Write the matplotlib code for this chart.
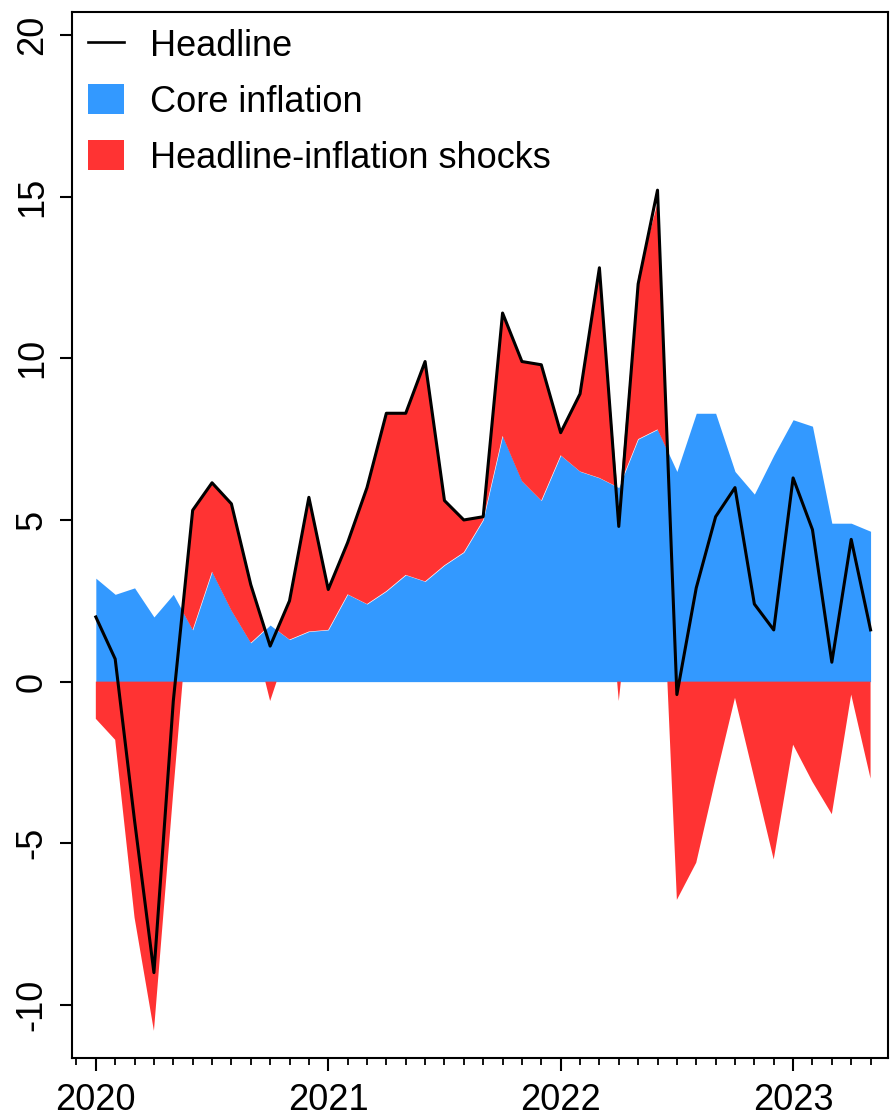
import numpy as np
import matplotlib
matplotlib.use("Agg")
import matplotlib.pyplot as plt
from matplotlib.ticker import MultipleLocator, FixedLocator
from matplotlib.lines import Line2D
from matplotlib.patches import Patch

plt.rcParams['font.family'] = ['Liberation Sans', 'DejaVu Sans']

# monthly data, Jan 2020 .. May 2023
start_year = 2020
core = [3.2, 2.7, 2.9, 2.0, 2.7, 1.6, 3.4, 2.2, 1.2, 1.75,
        1.3, 1.55, 1.6, 2.7, 2.4, 2.8, 3.3, 3.1, 3.6, 4.0,
        5.0, 7.6, 6.2, 5.6, 7.0, 6.5, 6.3, 6.0, 7.5, 7.8,
        6.5, 8.3, 8.3, 6.5, 5.8, 7.0, 8.1, 7.9, 4.9, 4.9, 4.65]
shocks = [-1.15, -1.8, -7.3, -10.8, -3.4, 3.7, 2.75, 3.3, 1.8, -0.6,
          1.2, 4.15, 1.25, 1.6, 3.6, 5.5, 5.0, 6.8, 2.0, 1.0,
          0.1, 3.8, 3.7, 4.2, 0.7, 2.4, 6.5, -0.6, 5.0, 7.0,
          -6.75, -5.6, -3.0, -0.5, -3.0, -5.5, -1.95, -3.1, -4.1, -0.4, -3.0]
headline = [2.0, 0.7, -4.3, -9.0, -0.6, 5.3, 6.15, 5.5, 3.0, 1.1,
            2.5, 5.7, 2.85, 4.3, 6.0, 8.3, 8.3, 9.9, 5.6, 5.0,
            5.1, 11.4, 9.9, 9.8, 7.7, 8.9, 12.8, 4.8, 12.3, 15.2,
            -0.4, 2.9, 5.1, 6.0, 2.4, 1.6, 6.3, 4.7, 0.6, 4.4, 1.6]
year_ticks = [2020, 2021, 2022, 2023]
y_ticks = [-10, -5, 0, 5, 10, 15, 20]
labels = ["Headline", "Core inflation", "Headline-inflation shocks"]

BLUE = '#3399ff'
RED = '#ff3333'

core_a = np.array(core)
sh = np.array(shocks)
x = start_year + np.arange(len(core)) / 12.0

fig = plt.figure(figsize=(8.93, 11.16), dpi=100)
ax = fig.add_axes([72/893, 58/1116, (888-72)/893, (1058-12)/1116])

ax.fill_between(x, 0, core_a, color=BLUE, linewidth=0)
ax.fill_between(x, core_a, core_a + sh, where=sh > 0, interpolate=True,
                color=RED, linewidth=0)
ax.fill_between(x, sh, 0, where=sh < 0, interpolate=True,
                color=RED, linewidth=0)
ax.plot(x, headline, color='black', lw=2.2)

ax.set_xlim(start_year - 1.23/12, start_year + 40.9/12)
ax.set_ylim(-11.64, 20.71)

ax.xaxis.set_major_locator(FixedLocator(year_ticks))
ax.set_xticklabels([str(y) for y in year_ticks])
ax.xaxis.set_minor_locator(MultipleLocator(1/12))
ax.yaxis.set_major_locator(FixedLocator(y_ticks))
ax.set_yticklabels([str(v) for v in y_ticks])

ax.tick_params(axis='both', which='major', direction='out', length=9, width=1.5,
               labelsize=26, color='black')
ax.tick_params(axis='x', which='minor', direction='out', length=5, width=1.3)
ax.tick_params(axis='x', which='major', pad=9)
ax.tick_params(axis='y', which='major', pad=7)
for lab in ax.get_yticklabels():
    lab.set_rotation(90)
    lab.set_va('center')
for s in ax.spines.values():
    s.set_linewidth(1.5)

handles = [Line2D([0], [0], color='black', lw=1.9),
           Patch(facecolor=BLUE, edgecolor='none'),
           Patch(facecolor=RED, edgecolor='none')]
ax.legend(handles, labels, loc='upper left', frameon=False, fontsize=26,
          handlelength=1.0, handleheight=0.9, handletextpad=0.72,
          labelspacing=0.57, borderaxespad=0.15, borderpad=0.3)

fig.savefig('out.png', dpi=100)
